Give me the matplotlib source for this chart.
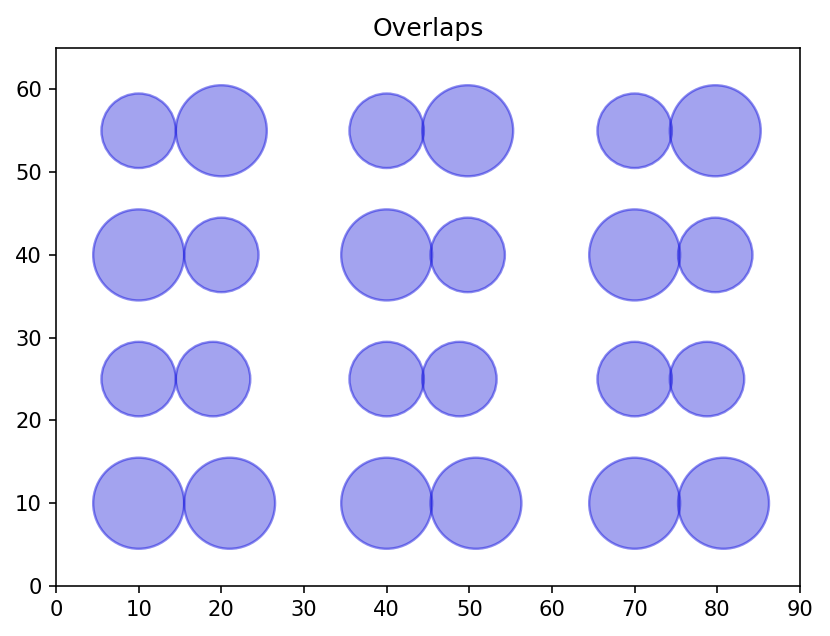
import matplotlib
matplotlib.use("Agg")
import matplotlib.pyplot as plt
from matplotlib.patches import Circle

# circle data
row_y = [10, 25, 40, 55]
left_radius = [5.5, 4.5, 5.5, 4.5]
right_radius = [5.5, 4.5, 4.5, 5.5]
left_x = [10, 40, 70]
# right circle centres per row (for each column group)
right_x = [
    [21.0, 50.8, 80.75],
    [19.0, 48.8, 78.75],
    [20.0, 49.8, 79.75],
    [20.0, 49.8, 79.75],
]
x_ticks = list(range(0, 91, 10))
y_ticks = list(range(0, 61, 10))

W, H, DPI = 830, 636, 144
fig = plt.figure(figsize=(W / DPI, H / DPI), dpi=DPI)
ax = fig.add_axes([56 / W, (H - 586) / H, (800 - 56) / W, (586 - 48) / H])

face = (0.1, 0.1, 0.85, 0.4)
edge = (0.1, 0.1, 0.88, 0.5)
for i, y in enumerate(row_y):
    for j, lx in enumerate(left_x):
        ax.add_patch(Circle((lx, y), left_radius[i], facecolor=face,
                            edgecolor=edge, linewidth=1.2))
        ax.add_patch(Circle((right_x[i][j], y), right_radius[i], facecolor=face,
                            edgecolor=edge, linewidth=1.2))

ax.set_xlim(0, 90)
ax.set_ylim(0, 65)
ax.set_xticks(x_ticks)
ax.set_yticks(y_ticks)
ax.tick_params(labelsize=10.5)
ax.set_title("Overlaps", fontsize=12.5)
fig.savefig("out.png", dpi=DPI)
